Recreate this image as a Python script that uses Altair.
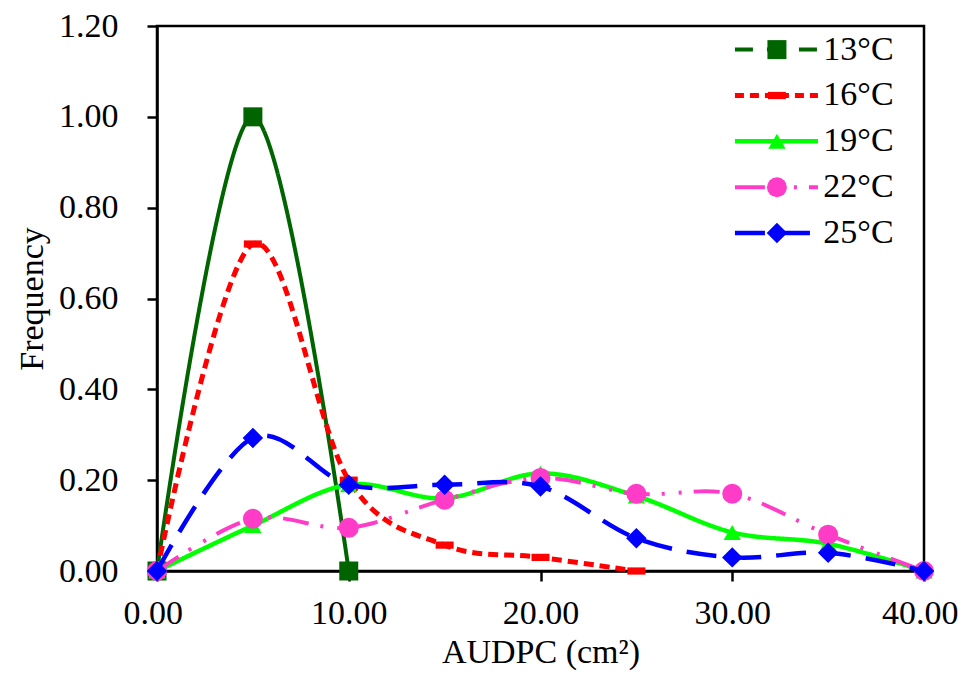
import altair as alt
import pandas as pd

# ---- data ----
series_names = ["13°C", "16°C", "19°C", "22°C", "25°C"]
x_13 = [0, 5, 10]
f_13 = [0.00, 1.00, 0.00]
x_16 = [0, 5, 10, 15, 20, 25]
f_16 = [0.00, 0.72, 0.20, 0.057, 0.03, 0.00]
x_19 = [0, 5, 10, 15, 20, 25, 30, 35, 40]
f_19 = [0.00, 0.10, 0.19, 0.16, 0.215, 0.165, 0.085, 0.06, 0.00]
x_22 = [0, 5, 10, 15, 20, 25, 30, 35, 40]
f_22 = [0.00, 0.115, 0.095, 0.157, 0.205, 0.17, 0.17, 0.08, 0.00]
x_25 = [0, 5, 10, 15, 20, 25, 30, 35, 40]
f_25 = [0.00, 0.293, 0.19, 0.19, 0.186, 0.072, 0.03, 0.04, 0.00]

x_ticks = [0, 10, 20, 30, 40]
y_ticks = [0.0, 0.2, 0.4, 0.6, 0.8, 1.0, 1.2]

# ---- styles ----
FONT = "Liberation Serif"
colors = ["#006400", "#FF0000", "#00FF00", "#FF3CC8", "#0000FF"]
dashes = [[1, 0], [10, 6], [1, 0], [26, 12, 3, 14, 3, 12], [30, 15]]
legend_dashes = [[18, 14], [9, 6], [1, 0], [30, 12, 3, 14, 3, 12], [30, 15]]
widths = [4, 5, 4.5, 4, 4.5]
bar_path = "M -1 -0.4 L 1 -0.4 L 1 0.4 L -1 0.4 Z"
shapes = ["square", bar_path, "triangle-up", "circle", "diamond"]
sizes = [361, 324, 300, 400, 420]

xs = [x_13, x_16, x_19, x_22, x_25]
fs = [f_13, f_16, f_19, f_22, f_25]

x_scale = alt.Scale(domain=[0, 40], nice=False, zero=False)
y_scale = alt.Scale(domain=[0, 1.2], nice=False)

common_axis = dict(
    labelFont=FONT, labelFontSize=34, labelColor="black",
    titleFont=FONT, titleFontSize=34, titleFontWeight="normal", titleColor="black",
    tickColor="black", tickSize=10, tickWidth=2.5,
    domainColor="black", domainWidth=2.5, grid=False,
    labelOverlap=False, format=".2f",
)
x_axis = alt.Axis(values=x_ticks, labelPadding=15, titleY=91,
                  labelFlush=True, labelFlushOffset=34,
                  titleBaseline="alphabetic", **common_axis)
y_axis = alt.Axis(values=y_ticks, labelPadding=29, titleX=-125, titleY=272.5,
                  labelFlush=False,
                  titleAngle=-90, titleAlign="center", titleBaseline="middle",
                  **common_axis)


def X(field):
    return alt.X(f"{field}:Q", scale=x_scale, axis=x_axis, title="AUDPC (cm²)")


def Y(field):
    return alt.Y(f"{field}:Q", scale=y_scale, axis=y_axis, title="Frequency")


layers = []
for i, name in enumerate(series_names):
    df = pd.DataFrame({"x": xs[i], "y": fs[i]})
    line = alt.Chart(df).mark_line(
        color=colors[i], strokeWidth=widths[i], strokeDash=dashes[i],
        interpolate="cardinal"
    ).encode(x=X("x"), y=Y("y"))
    pts = alt.Chart(df).mark_point(
        shape=shapes[i], filled=True, size=sizes[i], color=colors[i], opacity=1
    ).encode(x=X("x"), y=Y("y"))
    layers += [line, pts]

# ---- custom legend (placed in data space, top right) ----
leg_top = 1.148
leg_step = 0.101
leg_x1, leg_x2, leg_xm, leg_xt = 30.14, 34.47, 32.33, 34.75
for i, name in enumerate(series_names):
    ly = leg_top - leg_step * i
    ldf = pd.DataFrame({"x1": [leg_x1], "x2": [leg_x2], "xm": [leg_xm],
                        "xt": [leg_xt], "ly": [ly], "label": [name]})
    rule = alt.Chart(ldf).mark_rule(
        color=colors[i], strokeWidth=widths[i], strokeDash=legend_dashes[i]
    ).encode(x=X("x1"), x2="x2:Q", y=Y("ly"))
    sym = alt.Chart(ldf).mark_point(
        shape=shapes[i], filled=True, size=sizes[i], color=colors[i], opacity=1
    ).encode(x=X("xm"), y=Y("ly"))
    txt = alt.Chart(ldf).mark_text(
        align="left", baseline="middle", font=FONT, fontSize=34, color="black"
    ).encode(x=X("xt"), y=Y("ly"), text="label:N")
    layers += [rule, sym, txt]

chart = alt.layer(*layers).properties(
    width=767, height=545,
    autosize=alt.AutoSizeParams(type="none"),
    padding={"left": 149, "top": 18, "right": 34, "bottom": 100},
    background="white",
).configure_view(stroke="black", strokeWidth=2.5)

chart.save("out.html", embed_options={"renderer": "svg", "actions": False})
